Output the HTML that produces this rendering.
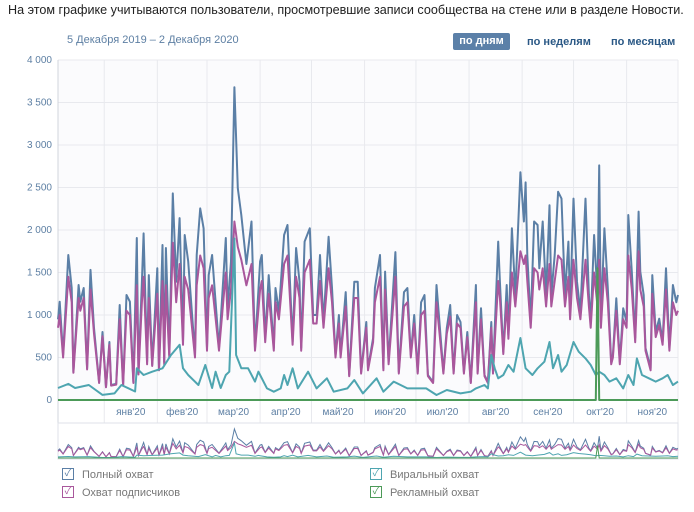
<!DOCTYPE html>
<html><head><meta charset="utf-8">
<style>
body{margin:0;background:#fff;font-family:"Liberation Sans","Noto Sans CJK SC",sans-serif;}
#wrap{position:relative;width:694px;height:512px;overflow:hidden;}
.t{position:absolute;white-space:nowrap;}
</style></head><body>
<div id="wrap">
<div class="t" style="left:8px;top:3px;font-size:12.6px;color:#222;">На этом графике учитываются пользователи, просмотревшие записи сообщества на стене или в разделе Новости.</div>
<div class="t" style="left:67px;top:34px;font-size:11px;color:#5d7fa3;">5 Декабря 2019 – 2 Декабря 2020</div>
<div class="t" style="left:453px;top:33px;width:57px;height:17px;background:#5b80a8;color:#fff;font-size:11px;font-weight:bold;text-align:center;line-height:17px;border-radius:2px;">по дням</div>
<div class="t" style="left:527px;top:34px;font-size:11px;font-weight:bold;color:#2a5885;line-height:17px;">по неделям</div>
<div class="t" style="left:611px;top:34px;font-size:11px;font-weight:bold;color:#2a5885;line-height:17px;">по месяцам</div>
<svg id="chart" width="694" height="512" style="position:absolute;left:0;top:0"></svg>
</div>
<script>
const yTicks=[0,500,1000,1500,2000,2500,3000,3500,4000];
const yTickLabels=["0","500","1 000","1 500","2 000","2 500","3 000","3 500","4 000"];
const monthStarts=[27,58,87,118,148,179,209,240,271,301,332,362];
const monthLabels=["янв'20","фев'20","мар'20","апр'20","май'20","июн'20","июл'20","авг'20","сен'20","окт'20","ноя'20"];
const fullDays=[0,1,3,6,8,9,12,13,15,17,19,21,24,26,28,30,31,34,36,38,40,42,44,46,47,49,50,52,53,55,58,59,61,62,63,65,67,69,71,73,74,76,80,81,83,85,87,88,90,94,98,99,101,103,105,107,110,113,115,118,
119,121,123,126,127,129,132,134,137,139,141,142,144,147,149,151,153,155,158,160,162,164,165,168,170,173,175,177,180,181,184,185,188,190,191,193,197,199,202,204,206,208,210,212,214,216,219,221,225,227,229,231,233,235,237,239,241,
244,245,247,249,251,253,254,257,258,260,262,263,265,267,270,272,273,274,276,278,280,281,283,285,287,288,290,292,294,296,298,299,301,303,305,308,310,311,313,315,316,317,319,321,323,324,326,328,330,332,333,335,337,339,340,342,343,346,347,349,351,353,355,357,359,361,362];
const fullVals=[950,1157,530,1706,1318,329,1353,1157,1318,373,1530,847,210,800,155,682,176,190,1118,176,1235,1157,210,1906,329,1392,1960,447,1470,412,1549,373,1823,447,1788,529,2430,1392,2140,690,1941,1630,529,1706,2254,2020,612,1470,1706,612,1906,1080,1630,3680,2490,2176,1600,2100,612,1630,
1706,729,1470,612,1318,1035,1941,2059,682,1788,1392,612,1863,2020,1000,1000,1706,918,1920,1318,529,1000,529,1270,294,1392,1392,329,918,373,729,1318,1706,373,1510,447,1740,329,1270,1318,529,1000,329,1150,1235,294,210,1353,329,847,1118,329,1000,918,329,800,210,
1353,329,1080,294,210,918,329,1863,1392,565,1353,765,2020,1235,2680,2100,2560,1706,918,2100,2059,1549,2100,1235,2290,1235,1706,2450,2370,1235,1863,1080,2370,1392,1038,2370,1235,918,1941,1235,2760,918,2020,1318,447,529,1196,447,1080,918,2176,1510,729,2216,1510,1235,612,373,1470,800,957,690,1549,612,1353,1150,1235];
const subVals=[850,1000,500,1450,1150,320,1200,1050,1200,360,1300,780,200,750,150,650,170,180,950,170,1050,1000,200,1350,300,1150,1450,420,1200,400,1250,350,1400,420,1350,500,1850,1150,1600,650,1450,1300,500,1350,1700,1550,580,1200,1350,580,1500,950,1300,2100,1800,1650,1350,1600,580,1300,
1400,680,1250,580,1150,950,1600,1700,650,1450,1200,580,1500,1650,900,900,1400,850,1550,1150,500,900,500,1100,280,1200,1200,310,850,350,680,1150,1450,350,1300,420,1450,310,1100,1150,500,900,310,1000,1050,280,200,1150,310,780,980,310,900,850,310,740,200,
1150,310,950,280,200,850,310,1400,1200,540,1150,720,1500,1100,1750,1600,1700,1400,850,1550,1500,1300,1550,1100,1600,1100,1400,1700,1650,1100,1450,950,1650,1200,950,1650,1100,850,1500,1100,1650,850,1550,1150,420,500,1050,420,950,850,1700,1300,680,1750,1300,1100,580,350,1250,740,880,650,1300,580,1150,1000,1050];
const viralDays=[0,6,10,18,26,33,37,45,46,50,55,61,66,71,73,76,82,86,90,92,95,98,100,103,104,107,111,115,117,
118,122,126,130,132,134,137,140,146,151,157,161,169,173,178,186,190,196,204,210,215,221,227,235,241,
244,249,251,253,255,257,260,263,266,270,273,277,280,284,287,289,292,294,297,301,304,308,311,314,316,319,322,326,330,333,336,338,341,345,349,353,356,359,362];
const viralVals=[141,190,141,176,60,78,176,100,373,294,333,373,529,650,373,294,176,412,141,333,141,294,333,1900,529,373,373,216,333,
294,137,98,137,294,176,373,137,333,137,255,98,137,235,78,255,98,216,137,137,137,59,118,78,98,
137,176,137,529,373,255,294,412,333,729,373,294,373,451,682,373,529,333,412,682,568,490,412,294,333,294,216,255,137,294,176,490,294,255,216,255,294,176,216];
const adDays=[0,314,315,316,362];
const adVals=[0,0,1550,0,0];

const NS="http://www.w3.org/2000/svg";
const svg=document.getElementById('chart');
const X0=58,X1=678,DMAX=362,Y0=400,Y1=60,VMAX=4000;
function xs(d){return X0+d*(X1-X0)/DMAX;}
function ys(v){return Y0-v*(Y0-Y1)/VMAX;}
const NY0=458,NY1=424,NMAX=4300;
function nys(v){return NY0-v*(NY0-NY1)/NMAX;}
function mk(tag,attrs){const e=document.createElementNS(NS,tag);for(const k in attrs)e.setAttribute(k,attrs[k]);svg.appendChild(e);return e;}

let bg=mk('rect',{x:X0,y:Y1,width:X1-X0,height:Y0-Y1,fill:'#fbfbfd'});


yTicks.forEach((v,i)=>{
  const g=mk('line',{x1:X0,x2:X1,y1:ys(v),y2:ys(v),stroke:'#e8e9ee','stroke-width':1});
  
  
  const t=mk('text',{x:52,y:ys(v)+3,'text-anchor':'end','font-size':10,fill:'#5d7fa3','font-family':'Liberation Sans, sans-serif'});
  t.textContent=yTickLabels[i];
  
  
});
monthStarts.forEach(d=>{
  const g=mk('line',{x1:xs(d),x2:xs(d),y1:Y1,y2:423,stroke:'#e8e9ee','stroke-width':1});
  
  
});
mk('line',{x1:X0,x2:X0,y1:Y1,y2:423,stroke:'#d0d4dc','stroke-width':1});
mk('line',{x1:X1,x2:X1,y1:Y1,y2:423,stroke:'#e8e9ee','stroke-width':1});
monthLabels.forEach((m,i)=>{
  const t=mk('text',{x:(xs(monthStarts[i])+xs(monthStarts[i+1]))/2,y:415,'text-anchor':'middle','font-size':10,fill:'#5d7fa3','font-family':'Liberation Sans, sans-serif'});
  t.textContent=m;
  
  
});
function path(days,vals,yf){return days.map((d,i)=>(i?'L':'M')+xs(d).toFixed(1)+' '+yf(vals[i]).toFixed(1)).join(' ');}
const series=[
  {name:'full-reach-line',days:fullDays,vals:fullVals,c:'#5b7fa6'},
  {name:'subscriber-reach-line',days:fullDays,vals:subVals,c:'#a9579c'},
  {name:'viral-reach-line',days:viralDays,vals:viralVals,c:'#4ea5b0'},
  {name:'ad-reach-line',days:adDays,vals:adVals,c:'#4c9a58'}
];
series.forEach(s=>{
  const p=mk('path',{d:path(s.days,s.vals,ys),fill:'none',stroke:s.c,'stroke-width':2,'stroke-linejoin':'round'});
  
  
});
const nb=mk('rect',{x:X0,y:423,width:X1-X0,height:36,fill:'#fff',stroke:'#dfe2e8','stroke-width':1});


series.forEach(s=>{
  const p=mk('path',{d:path(s.days,s.vals,nys),fill:'none',stroke:s.c,'stroke-width':1});
  
  
});
</script>
<div class="t" style="left:62px;top:469px;font-size:11px;color:#777;"><span style="display:inline-block;width:10px;height:10px;border:1px solid #5b7fa6;vertical-align:middle;position:relative;top:-1px;margin-right:8px;color:#5b7fa6;font-size:10px;line-height:10px;text-align:center;">✓</span>Полный охват</div>
<div class="t" style="left:62px;top:487px;font-size:11px;color:#777;"><span style="display:inline-block;width:10px;height:10px;border:1px solid #a9579c;vertical-align:middle;position:relative;top:-1px;margin-right:8px;color:#a9579c;font-size:10px;line-height:10px;text-align:center;">✓</span>Охват подписчиков</div>
<div class="t" style="left:370px;top:469px;font-size:11px;color:#777;"><span style="display:inline-block;width:10px;height:10px;border:1px solid #4ea5b0;vertical-align:middle;position:relative;top:-1px;margin-right:8px;color:#4ea5b0;font-size:10px;line-height:10px;text-align:center;">✓</span>Виральный охват</div>
<div class="t" style="left:370px;top:487px;font-size:11px;color:#777;"><span style="display:inline-block;width:10px;height:10px;border:1px solid #4c9a58;vertical-align:middle;position:relative;top:-1px;margin-right:8px;color:#4c9a58;font-size:10px;line-height:10px;text-align:center;">✓</span>Рекламный охват</div>
</body></html>
